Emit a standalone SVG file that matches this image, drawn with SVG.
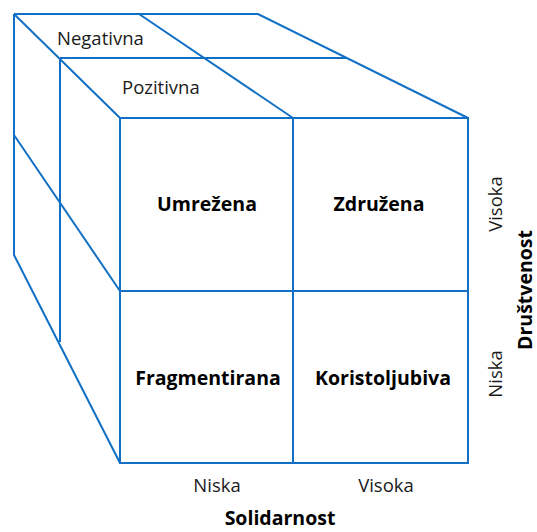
<svg xmlns="http://www.w3.org/2000/svg" width="537" height="532" viewBox="0 0 537 532">
<style>
.l{fill:none;stroke:#1170C4;stroke-width:2;stroke-linejoin:miter}
.t{font-family:"Open Sans","Noto Sans",sans-serif;font-size:18.5px;fill:#1a1a1a}
.b{font-family:"Open Sans","Noto Sans",sans-serif;font-size:19.5px;font-weight:bold;fill:#000}
</style>
<rect width="537" height="532" fill="#fff"/>
<g id="connectors" class="l">
<path d="M14,14 H258 L468,118 M14,14 L120,118 M139,14 L293,118 M60,58 H347 M14,14 V255 L120,463 M60,58 V342 M14,135 L120,291"/>
</g>
<g id="front" class="l">
<rect x="120" y="118" width="348" height="345"/>
<path d="M293,118 V463 M120,291 H468"/>
</g>
<g id="negativna"><text class="t" x="57" y="45">Negativna</text></g>
<g id="pozitivna"><text class="t" x="122" y="94">Pozitivna</text></g>
<g id="umrezena"><text class="b" x="207" y="211" text-anchor="middle">Umrežena</text></g>
<g id="zdruzena"><text class="b" x="379" y="211" text-anchor="middle">Združena</text></g>
<g id="fragmentirana"><text class="b" x="208" y="385" text-anchor="middle">Fragmentirana</text></g>
<g id="koristoljubiva"><text class="b" x="383" y="385" text-anchor="middle">Koristoljubiva</text></g>
<g id="x-niska"><text class="t" x="217" y="492" text-anchor="middle">Niska</text></g>
<g id="x-visoka"><text class="t" x="386" y="492" text-anchor="middle">Visoka</text></g>
<g id="x-title"><text class="b" x="280" y="525" text-anchor="middle">Solidarnost</text></g>
<g id="y-visoka"><text class="t" transform="translate(502,204) rotate(-90)" text-anchor="middle">Visoka</text></g>
<g id="y-niska"><text class="t" transform="translate(502,374) rotate(-90)" text-anchor="middle">Niska</text></g>
<g id="y-title"><text class="b" transform="translate(532,290) rotate(-90)" text-anchor="middle">Društvenost</text></g>
</svg>
